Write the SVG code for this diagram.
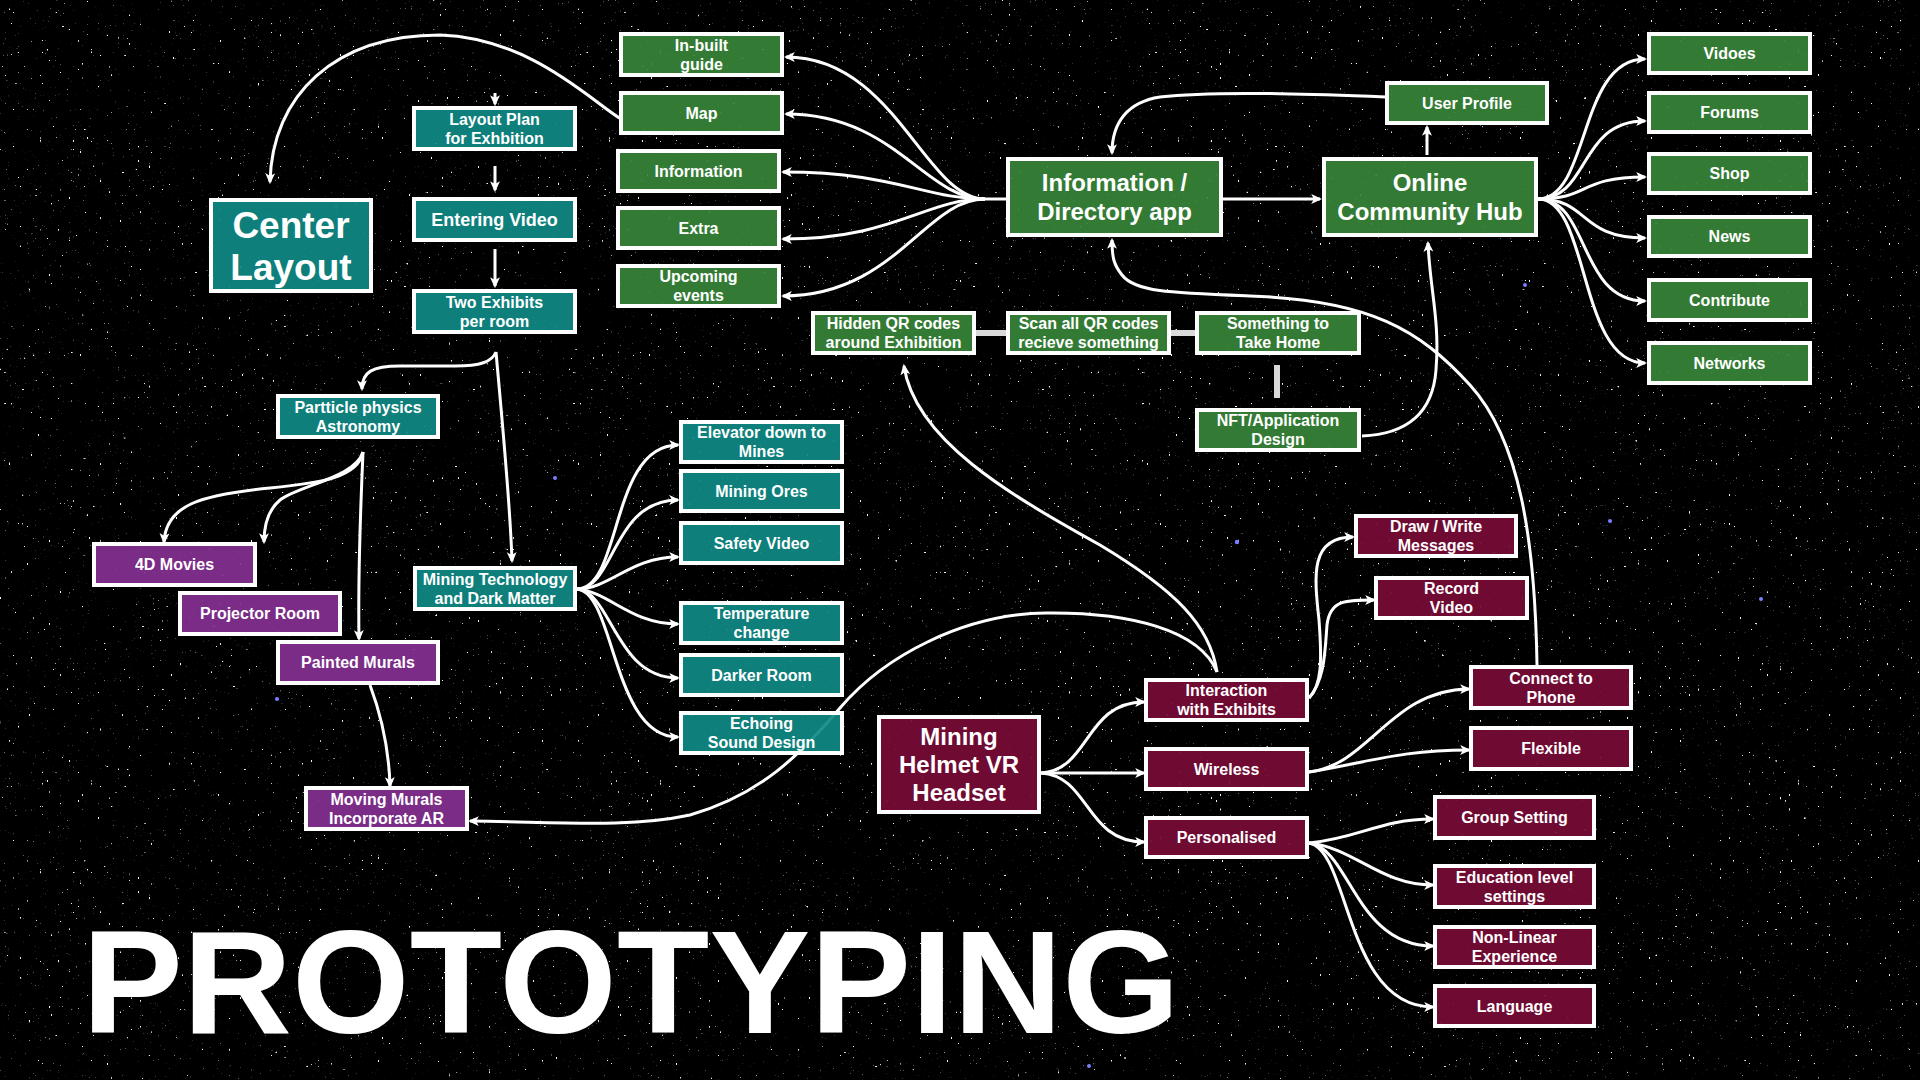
<svg xmlns="http://www.w3.org/2000/svg" width="1920" height="1080" viewBox="0 0 1920 1080">
  <defs>
    <style>
      .node rect { stroke: #fff; stroke-width: 4; fill-opacity: 0.92; }
      .t rect { fill: #0f8a85; }
      .g rect { fill: #378538; }
      .p rect { fill: #843093; }
      .m rect { fill: #780b37; }
      text { font-family: "Liberation Sans", Arial, sans-serif; font-weight: bold; fill: #fff; text-anchor: middle; }
      .s { font-size: 16px; }
      .l { font-size: 18px; }
      .xl { font-size: 24px; }
      .xxl { font-size: 37px; }
      .title { font-size: 147px; text-anchor: start; }
      .edge { fill: none; stroke: #fff; stroke-width: 3; marker-end: url(#ah); }
      .plain { fill: none; stroke: #fff; stroke-width: 3; }
      .link { stroke: #d9d9d9; stroke-width: 6; }
      .blue { fill: #7a80ff; }
    </style>
    <marker id="ah" viewBox="0 0 10 10" refX="8" refY="5" markerWidth="11" markerHeight="11" markerUnits="userSpaceOnUse" orient="auto">
      <path d="M0,0.5 L10,5 L0,9.5 L2.5,5 z" fill="#fff"/>
    </marker>
    <!-- sparse bright specks -->
    <filter id="stars" filterUnits="userSpaceOnUse" x="0" y="0" width="1920" height="1080" color-interpolation-filters="sRGB">
      <feTurbulence type="fractalNoise" baseFrequency="0.45 0.35" numOctaves="1" seed="4"/>
      <feColorMatrix type="matrix" values="0 0 0 0 0.9  0 0 0 0 0.97  0 0 0 0 1  1 0 0 0 0"/>
      <feComponentTransfer>
        <feFuncA type="linear" slope="25" intercept="-18.4"/>
      </feComponentTransfer>
    </filter>
    <!-- faint background specks -->
    <filter id="dust" filterUnits="userSpaceOnUse" x="0" y="0" width="1920" height="1080" color-interpolation-filters="sRGB">
      <feTurbulence type="fractalNoise" baseFrequency="0.6" numOctaves="1" seed="19"/>
      <feColorMatrix type="matrix" values="0 0 0 0 0.6  0 0 0 0 0.8  0 0 0 0 0.9  1 0 0 0 0"/>
      <feComponentTransfer>
        <feFuncA type="linear" slope="12" intercept="-8.6"/>
      </feComponentTransfer>
    </filter>
  </defs>

  <!-- night sky -->
  <rect width="1920" height="1080" fill="#000"/>
  <rect width="1920" height="1080" filter="url(#dust)" opacity="0.55"/>
  <rect width="1920" height="1080" filter="url(#stars)"/>
  <g id="bright-stars" class="blue">
    <circle cx="1237" cy="542" r="2.2"/>
    <circle cx="1525" cy="285" r="2"/>
    <circle cx="277" cy="699" r="2"/>
    <circle cx="555" cy="478" r="2"/>
    <circle cx="1089" cy="1066" r="2"/>
    <circle cx="1761" cy="599" r="2"/>
    <circle cx="1610" cy="521" r="2"/>
  </g>

  <!-- connectors -->
  <g id="connectors">
    <!-- layout column -->
    <path class="edge" d="M621,119 C590,100 530,38 440,35 C335,35 272,95 270,182"/>
    <path class="edge" d="M495,93 L495,104"/>
    <path class="edge" d="M495,166 L495,190"/>
    <path class="edge" d="M495,249 L495,286"/>
    <path class="edge" d="M496,352 C492,362 480,366 455,366 L400,366 C372,366 362,372 362,389"/>
    <path class="edge" d="M496,352 C502,420 510,500 512,561"/>
    <path class="edge" d="M363,452 C358,478 320,483 270,488 C200,495 166,505 164,542"/>
    <path class="edge" d="M363,452 C355,478 300,485 280,500 C268,510 264,525 264,542"/>
    <path class="edge" d="M363,452 C360,520 358,580 359,639"/>
    <path class="edge" d="M370,685 C383,720 389,750 390,786"/>

    <!-- mining technology fan -->
    <path class="edge" d="M577,589 C622,589 610,445 678,445"/>
    <path class="edge" d="M577,589 C615,589 612,500 678,500"/>
    <path class="edge" d="M577,589 C610,589 630,557 678,557"/>
    <path class="edge" d="M577,589 C610,592 630,624 678,624"/>
    <path class="edge" d="M577,589 C612,592 615,678 678,678"/>
    <path class="edge" d="M577,589 C615,592 612,737 678,737"/>

    <!-- directory app fan -->
    <path class="plain" d="M1007,199 L985,199"/>
    <path class="edge" d="M985,199 C925,199 895,57 786,57"/>
    <path class="edge" d="M985,199 C925,199 895,114 786,114"/>
    <path class="edge" d="M985,199 C925,199 895,172 783,172"/>
    <path class="edge" d="M985,199 C925,199 895,239 783,239"/>
    <path class="edge" d="M985,199 C925,199 895,296 783,296"/>

    <!-- app to hub, profile loop -->
    <path class="edge" d="M1222,199 L1320,199"/>
    <path class="edge" d="M1427,155 L1427,127"/>
    <path class="edge" d="M1387,97 C1330,95 1220,90 1160,97 C1128,102 1112,122 1112,153"/>

    <!-- hub fan -->
    <path class="edge" d="M1538,199 C1590,199 1578,59 1645,59"/>
    <path class="edge" d="M1538,199 C1590,199 1578,121 1645,121"/>
    <path class="edge" d="M1538,199 C1590,199 1578,177 1645,177"/>
    <path class="edge" d="M1538,199 C1590,199 1578,238 1645,238"/>
    <path class="edge" d="M1538,199 C1590,199 1578,301 1645,301"/>
    <path class="edge" d="M1538,199 C1590,199 1578,363 1645,363"/>

    <!-- QR chain -->
    <line class="link" x1="976" y1="333" x2="1006" y2="333"/>
    <line class="link" x1="1170" y1="333" x2="1196" y2="333"/>
    <line class="link" x1="1277" y1="365" x2="1277" y2="398"/>
    <path class="edge" d="M1362,436 C1410,434 1433,410 1436,370 C1440,320 1430,290 1428,243"/>

    <!-- long returns -->
    <path class="edge" d="M1537,665 C1535,540 1520,440 1470,385 C1420,330 1370,300 1250,296 C1170,293 1135,292 1122,275 C1114,265 1112,258 1112,240"/>
    <path class="edge" d="M1217,672 C1210,625 1175,590 1100,545 C1010,495 915,440 904,366"/>
    <path class="edge" d="M1217,672 C1200,630 1130,612 1046,613 C965,614 885,655 840,708 C800,755 760,795 690,815 C630,828 560,822 470,821"/>

    <!-- headset fan -->
    <path class="edge" d="M1041,773 C1090,770 1085,702 1144,702"/>
    <path class="edge" d="M1041,773 L1144,773"/>
    <path class="edge" d="M1041,773 C1090,776 1085,842 1144,842"/>

    <!-- interaction fan -->
    <path class="edge" d="M1309,698 C1322,685 1322,660 1319,620 C1314,575 1310,537 1353,537"/>
    <path class="edge" d="M1309,698 C1325,680 1325,650 1327,625 C1330,600 1345,600 1374,600"/>

    <!-- wireless fan -->
    <path class="edge" d="M1309,772 C1370,765 1390,690 1469,689"/>
    <path class="edge" d="M1309,772 C1370,762 1400,750 1469,750"/>

    <!-- personalised fan -->
    <path class="edge" d="M1309,843 C1360,838 1380,819 1433,819"/>
    <path class="edge" d="M1309,843 C1355,848 1380,885 1433,885"/>
    <path class="edge" d="M1309,843 C1350,848 1355,946 1433,946"/>
    <path class="edge" d="M1309,843 C1350,850 1345,1007 1433,1007"/>
  </g>

  <!-- layout column -->
  <g id="center-layout" class="node t"><rect x="211" y="200" width="160" height="91"/><text class="xxl" x="291" y="238">Center</text><text class="xxl" x="291" y="280">Layout</text></g>
  <g id="layout-plan" class="node t"><rect x="414" y="108" width="161" height="41"/><text class="s" x="494.5" y="124.8">Layout Plan</text><text class="s" x="494.5" y="143.8">for Exhbition</text></g>
  <g id="entering-video" class="node t"><rect x="414" y="199" width="161" height="41"/><text class="l" x="494.5" y="226">Entering Video</text></g>
  <g id="two-exhibits" class="node t"><rect x="414" y="291" width="161" height="41"/><text class="s" x="494.5" y="307.8">Two Exhibits</text><text class="s" x="494.5" y="326.8">per room</text></g>
  <g id="particle-physics" class="node t"><rect x="278" y="396" width="160" height="41"/><text class="s" x="358" y="412.8">Partticle physics</text><text class="s" x="358" y="431.8">Astronomy</text></g>
  <g id="mining-technology" class="node t"><rect x="415" y="568" width="160" height="41"/><text class="s" x="495" y="584.8">Mining Technology</text><text class="s" x="495" y="603.8">and Dark Matter</text></g>

  <!-- mining exhibit -->
  <g id="elevator" class="node t"><rect x="681" y="422" width="161" height="40"/><text class="s" x="761.5" y="438.3">Elevator down to</text><text class="s" x="761.5" y="457.3">Mines</text></g>
  <g id="mining-ores" class="node t"><rect x="681" y="471" width="161" height="40"/><text class="s" x="761.5" y="496.8">Mining Ores</text></g>
  <g id="safety-video" class="node t"><rect x="681" y="523" width="161" height="40"/><text class="s" x="761.5" y="548.8">Safety Video</text></g>
  <g id="temperature" class="node t"><rect x="681" y="603" width="161" height="40"/><text class="s" x="761.5" y="619.3">Temperature</text><text class="s" x="761.5" y="638.3">change</text></g>
  <g id="darker-room" class="node t"><rect x="681" y="655" width="161" height="40"/><text class="s" x="761.5" y="680.8">Darker Room</text></g>
  <g id="echoing" class="node t"><rect x="681" y="713" width="161" height="40"/><text class="s" x="761.5" y="729.3">Echoing</text><text class="s" x="761.5" y="748.3">Sound Design</text></g>

  <!-- astronomy exhibit -->
  <g id="movies-4d" class="node p"><rect x="94" y="544" width="161" height="41"/><text class="s" x="174.5" y="570.3">4D Movies</text></g>
  <g id="projector-room" class="node p"><rect x="180" y="593" width="160" height="41"/><text class="s" x="260" y="619.3">Projector Room</text></g>
  <g id="painted-murals" class="node p"><rect x="278" y="642" width="160" height="41"/><text class="s" x="358" y="668.3">Painted Murals</text></g>
  <g id="moving-murals" class="node p"><rect x="306" y="788" width="161" height="41"/><text class="s" x="386.5" y="804.8">Moving Murals</text><text class="s" x="386.5" y="823.8">Incorporate AR</text></g>

  <!-- directory app -->
  <g id="inbuilt-guide" class="node g"><rect x="621" y="34" width="161" height="41"/><text class="s" x="701.5" y="50.8">In-built</text><text class="s" x="701.5" y="69.8">guide</text></g>
  <g id="map" class="node g"><rect x="621" y="93" width="161" height="40"/><text class="s" x="701.5" y="118.8">Map</text></g>
  <g id="information" class="node g"><rect x="618" y="151" width="161" height="40"/><text class="s" x="698.5" y="176.8">Information</text></g>
  <g id="extra" class="node g"><rect x="618" y="208" width="161" height="40"/><text class="s" x="698.5" y="233.8">Extra</text></g>
  <g id="upcoming-events" class="node g"><rect x="618" y="266" width="161" height="40"/><text class="s" x="698.5" y="282.3">Upcoming</text><text class="s" x="698.5" y="301.3">events</text></g>
  <g id="directory-app" class="node g"><rect x="1008" y="159" width="213" height="76"/><text class="xl" x="1114.5" y="191">Information /</text><text class="xl" x="1114.5" y="220">Directory app</text></g>
  <g id="community-hub" class="node g"><rect x="1324" y="159" width="212" height="76"/><text class="xl" x="1430" y="191">Online</text><text class="xl" x="1430" y="220">Community Hub</text></g>
  <g id="user-profile" class="node g"><rect x="1387" y="83" width="160" height="40"/><text class="s" x="1467" y="108.8">User Profile</text></g>
  <g id="videos" class="node g"><rect x="1649" y="34" width="161" height="39"/><text class="s" x="1729.5" y="59.3">Vidoes</text></g>
  <g id="forums" class="node g"><rect x="1649" y="93" width="161" height="39"/><text class="s" x="1729.5" y="118.3">Forums</text></g>
  <g id="shop" class="node g"><rect x="1649" y="154" width="161" height="39"/><text class="s" x="1729.5" y="179.3">Shop</text></g>
  <g id="news" class="node g"><rect x="1649" y="217" width="161" height="39"/><text class="s" x="1729.5" y="242.3">News</text></g>
  <g id="contribute" class="node g"><rect x="1649" y="280" width="161" height="40"/><text class="s" x="1729.5" y="305.8">Contribute</text></g>
  <g id="networks" class="node g"><rect x="1649" y="343" width="161" height="40"/><text class="s" x="1729.5" y="368.8">Networks</text></g>
  <g id="hidden-qr" class="node g"><rect x="813" y="313" width="161" height="40"/><text class="s" x="893.5" y="329.3">Hidden QR codes</text><text class="s" x="893.5" y="348.3">around Exhibition</text></g>
  <g id="scan-qr" class="node g"><rect x="1008" y="313" width="161" height="40"/><text class="s" x="1088.5" y="329.3">Scan all QR codes</text><text class="s" x="1088.5" y="348.3">recieve something</text></g>
  <g id="take-home" class="node g"><rect x="1197" y="313" width="162" height="40"/><text class="s" x="1278" y="329.3">Something to</text><text class="s" x="1278" y="348.3">Take Home</text></g>
  <g id="nft-design" class="node g"><rect x="1197" y="410" width="162" height="40"/><text class="s" x="1278" y="426.3">NFT/Application</text><text class="s" x="1278" y="445.3">Design</text></g>

  <!-- headset -->
  <g id="vr-headset" class="node m"><rect x="879" y="717" width="160" height="95"/><text class="xl" x="959" y="745">Mining</text><text class="xl" x="959" y="773">Helmet VR</text><text class="xl" x="959" y="801">Headset</text></g>
  <g id="interaction" class="node m"><rect x="1146" y="680" width="161" height="40"/><text class="s" x="1226.5" y="696.3">Interaction</text><text class="s" x="1226.5" y="715.3">with Exhibits</text></g>
  <g id="wireless" class="node m"><rect x="1146" y="749" width="161" height="40"/><text class="s" x="1226.5" y="774.8">Wireless</text></g>
  <g id="personalised" class="node m"><rect x="1146" y="818" width="161" height="39"/><text class="s" x="1226.5" y="843.3">Personalised</text></g>
  <g id="draw-write" class="node m"><rect x="1356" y="516" width="160" height="40"/><text class="s" x="1436" y="532.3">Draw / Write</text><text class="s" x="1436" y="551.3">Messages</text></g>
  <g id="record-video" class="node m"><rect x="1376" y="578" width="151" height="40"/><text class="s" x="1451.5" y="594.3">Record</text><text class="s" x="1451.5" y="613.3">Video</text></g>
  <g id="connect-phone" class="node m"><rect x="1471" y="667" width="160" height="41"/><text class="s" x="1551" y="683.8">Connect to</text><text class="s" x="1551" y="702.8">Phone</text></g>
  <g id="flexible" class="node m"><rect x="1471" y="728" width="160" height="41"/><text class="s" x="1551" y="754.3">Flexible</text></g>
  <g id="group-setting" class="node m"><rect x="1435" y="797" width="159" height="41"/><text class="s" x="1514.5" y="823.3">Group Setting</text></g>
  <g id="education-level" class="node m"><rect x="1435" y="866" width="159" height="41"/><text class="s" x="1514.5" y="882.8">Education level</text><text class="s" x="1514.5" y="901.8">settings</text></g>
  <g id="non-linear" class="node m"><rect x="1435" y="927" width="159" height="40"/><text class="s" x="1514.5" y="943.3">Non-Linear</text><text class="s" x="1514.5" y="962.3">Experience</text></g>
  <g id="language" class="node m"><rect x="1435" y="986" width="159" height="40"/><text class="s" x="1514.5" y="1011.8">Language</text></g>

  <!-- title -->
  <text class="title" x="82" y="1033" textLength="1098" lengthAdjust="spacingAndGlyphs">PROTOTYPING</text>
</svg>
